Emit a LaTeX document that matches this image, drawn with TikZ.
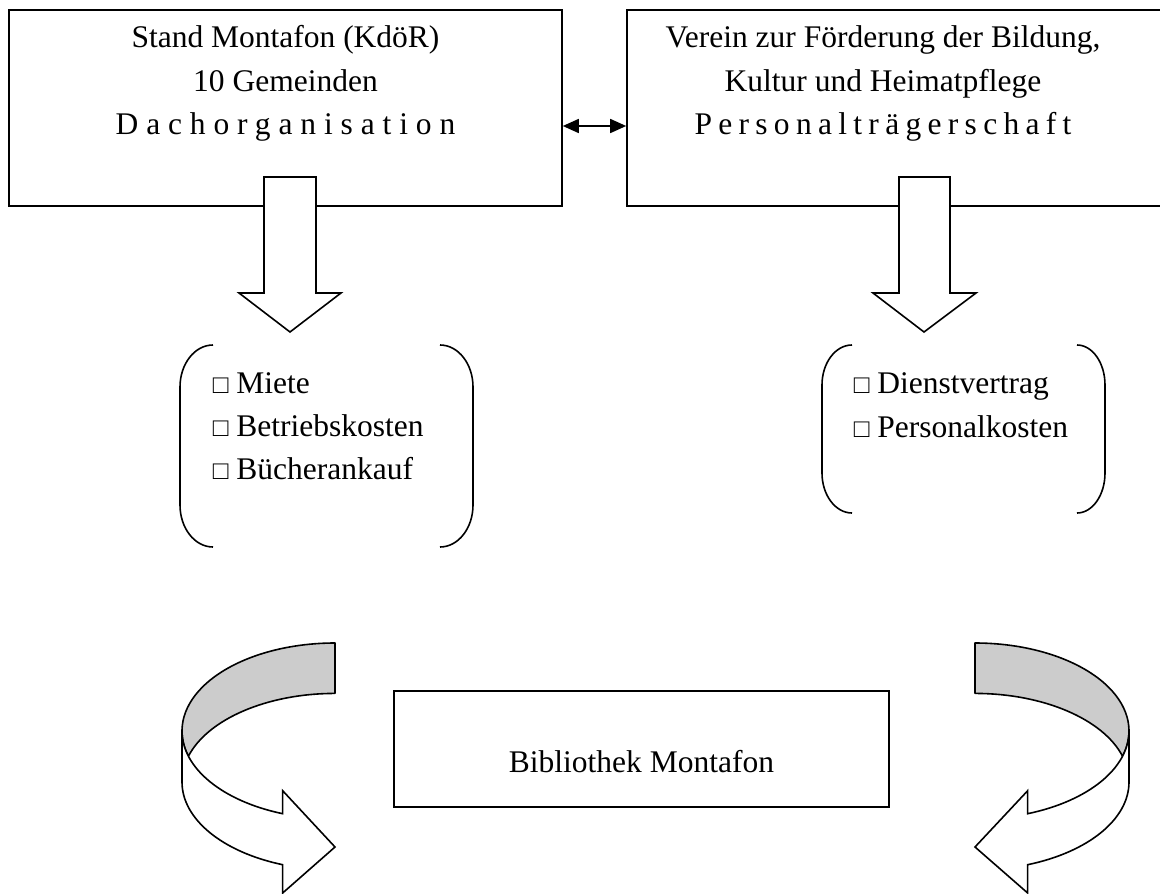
\documentclass[tikz,border=0pt]{standalone}
\usepackage{fontspec}
\setmainfont{Liberation Serif}
\newfontfamily\spacedA[LetterSpace=25]{Liberation Serif}
\newfontfamily\spacedB[LetterSpace=20]{Liberation Serif}
\usetikzlibrary{arrows.meta}
\definecolor{ribbongray}{RGB}{204,204,204}
\newcommand\mlines[2]{\begin{tabular}[t]{@{}#1@{}}#2\end{tabular}}
\newcommand\boxmark{{\fontsize{26}{26}\selectfont □}}
\begin{document}
\begin{tikzpicture}[x=1pt,y=-1pt,line width=1.6pt,
  every node/.style={inner sep=0pt},
  font=\fontsize{31.5}{44}\selectfont,
  frame/.style={draw, rectangle, line width=1.6pt},
  blockarrow/.style={draw, fill=white, line join=miter},
  ribbonback/.style={draw, fill=ribbongray, line join=round},
  ribbonfront/.style={draw, fill=white, line join=miter},
  brace/.style={draw, line width=1.6pt},
  >={Triangle[length=16pt,width=14pt]}]
\useasboundingbox (0,0) rectangle (1160,894);
\clip (0,0) rectangle (1160,894);

% top boxes
\node[frame, minimum width=553pt, minimum height=196pt] (stand) at (285.5,108) {};
\node[frame, minimum width=540pt, minimum height=196pt] (verein) at (897,108) {};
\node[anchor=base] (standtext) at (285.5,47)
  {\mlines{c}{Stand Montafon (KdöR)\\10 Gemeinden\\{\spacedA Dachorganisation}}};
\node[anchor=base] (vereintext) at (883,47)
  {\mlines{c}{Verein zur Förderung der Bildung,\\Kultur und Heimatpflege\\{\spacedB Personalträgerschaft}}};

% double arrow
\draw[<->] ([yshift=-18pt]stand.east) -- ([yshift=-18pt]verein.west);

% block arrows
\draw[blockarrow] (264,177) -- (316,177) -- (316,293) -- (341,293) -- (290,332) -- (239,293) -- (264,293) -- cycle;
\draw[blockarrow] (899,177) -- (950,177) -- (950,293) -- (976,293) -- (924,332) -- (873,293) -- (899,293) -- cycle;

% lists
\node[anchor=base west, font=\fontsize{31.5}{43}\selectfont] (kostenA) at (212,393)
  {\mlines{l}{\boxmark\ Miete\\\boxmark\ Betriebskosten\\\boxmark\ Bücherankauf}};
\node[anchor=base west, font=\fontsize{31.5}{44}\selectfont] (kostenB) at (853,393)
  {\mlines{l}{\boxmark\ Dienstvertrag\\\boxmark\ Personalkosten}};

% brackets
\draw[brace] (213,345) arc[start angle=270,end angle=180,x radius=33,y radius=42] -- (180,505)
  arc[start angle=180,end angle=90,x radius=33,y radius=42];
\draw[brace] (440,345) arc[start angle=270,end angle=360,x radius=33,y radius=42] -- (473,505)
  arc[start angle=0,end angle=90,x radius=33,y radius=42];
\draw[brace] (852,345) arc[start angle=270,end angle=180,x radius=30,y radius=40] -- (822,473)
  arc[start angle=180,end angle=90,x radius=30,y radius=40];
\draw[brace] (1077,345) arc[start angle=270,end angle=360,x radius=28,y radius=40] -- (1105,473)
  arc[start angle=0,end angle=90,x radius=28,y radius=40];

% library box
\node[frame, minimum width=495pt, minimum height=116pt] (bib) at (641.5,749) {};
\node[anchor=base] (bibtext) at (641.5,772) {Bibliothek Montafon};

% left curved arrow
\draw[ribbonback] (335,643) arc[start angle=270,end angle=163.35,x radius=153,y radius=88]
  arc[start angle=196.65,end angle=270,x radius=153,y radius=88] -- cycle;
\draw[ribbonfront] (182,731) arc[start angle=180,end angle=110,x radius=153,y radius=88]
  -- ++(0,-23) -- (335,847) -- (282.67,893) -- (282.67,864.7)
  arc[start angle=110,end angle=180,x radius=153,y radius=88] -- cycle;

% right curved arrow
\draw[ribbonback] (975,643) arc[start angle=270,end angle=376.65,x radius=154,y radius=88]
  arc[start angle=343.35,end angle=270,x radius=154,y radius=88] -- cycle;
\draw[ribbonfront] (1129,731) arc[start angle=0,end angle=70,x radius=154,y radius=88]
  -- ++(0,-23) -- (975,847) -- (1027.67,893) -- (1027.67,864.7)
  arc[start angle=70,end angle=0,x radius=154,y radius=88] -- cycle;
\end{tikzpicture}
\end{document}
